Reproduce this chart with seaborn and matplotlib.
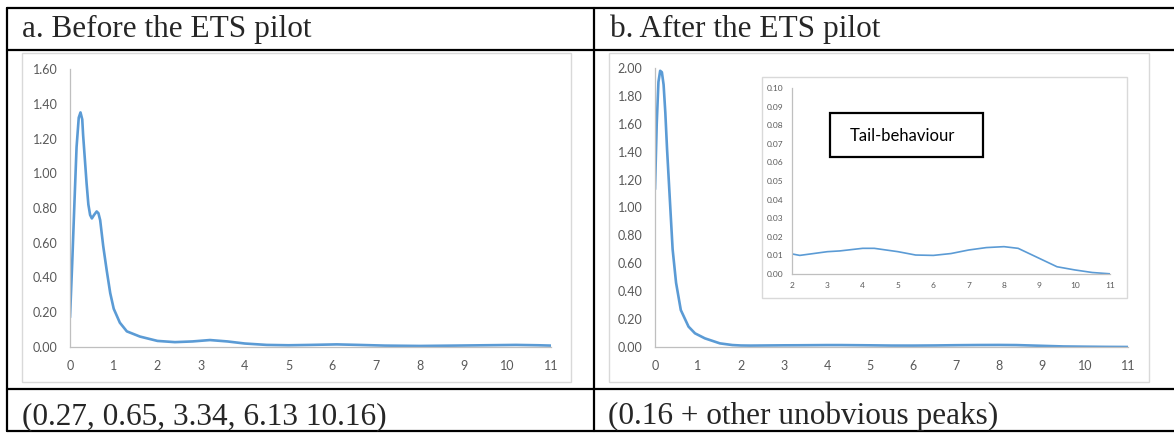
import matplotlib
matplotlib.use("Agg")
import matplotlib.pyplot as plt
from matplotlib.lines import Line2D
from matplotlib.patches import Rectangle
import seaborn as sns

# density before the pilot
before_x = [0, 0.05, 0.10, 0.15, 0.20, 0.24, 0.28, 0.30, 0.34, 0.38, 0.42, 0.46, 0.50,
            0.55, 0.61, 0.65, 0.69, 0.76, 0.84, 0.92, 1.0, 1.14, 1.30, 1.6, 2.0, 2.4,
            2.8, 3.2, 3.6, 4.0, 4.5, 5.0, 5.5, 6.1, 6.6, 7.2, 8.0, 8.8, 9.5, 10.2, 10.7, 11.0]
before_y = [0.17, 0.48, 0.82, 1.15, 1.32, 1.35, 1.31, 1.22, 1.08, 0.94, 0.82, 0.76, 0.74,
            0.76, 0.78, 0.77, 0.73, 0.58, 0.44, 0.31, 0.22, 0.14, 0.09, 0.06, 0.035, 0.028,
            0.032, 0.04, 0.032, 0.02, 0.012, 0.01, 0.012, 0.015, 0.012, 0.008, 0.006, 0.008,
            0.01, 0.012, 0.01, 0.008]

# density after the pilot, head part
after_head_x = [0, 0.04, 0.08, 0.12, 0.16, 0.20, 0.24, 0.28, 0.325, 0.37, 0.41, 0.49,
                0.60, 0.78, 0.93, 1.16, 1.51, 1.8]
after_head_y = [1.13, 1.60, 1.90, 1.98, 1.97, 1.88, 1.68, 1.42, 1.17, 0.92, 0.70, 0.46,
                0.265, 0.146, 0.098, 0.062, 0.026, 0.014]

# tail behaviour (x >= 2)
tail_x = [2.0, 2.22, 3.0, 3.35, 4.0, 4.33, 5.0, 5.5, 6.0, 6.5, 7.0, 7.5, 8.0, 8.4,
          9.0, 9.5, 10.0, 10.5, 11.0]
tail_y = [0.0108, 0.0100, 0.0120, 0.0124, 0.0138, 0.0138, 0.0120, 0.0102, 0.0100, 0.0110,
          0.0129, 0.0142, 0.0147, 0.0138, 0.0084, 0.0039, 0.0022, 0.0008, 0.0001]

after_x = after_head_x + tail_x
after_y = after_head_y + tail_y

headers = ["a. Before the ETS pilot", "b. After the ETS pilot"]
footers = ["(0.27, 0.65, 3.34, 6.13 10.16)", "(0.16 + other unobvious peaks)"]

sns.set_style("white")
plt.rcParams["font.family"] = ["Lato", "DejaVu Sans"]

W, H = 1174, 433
BLUE = "#5B9BD5"
GREY = "#595959"
AXC = "#BFBFBF"
FRAME = "#D9D9D9"

fig = plt.figure(figsize=(W / 100, H / 100), dpi=100)


def rect(x0, y0, x1, y1):
    return [x0 / W, 1 - y1 / H, (x1 - x0) / W, (y1 - y0) / H]


def hline(y, x0, x1, **kw):
    fig.add_artist(Line2D([x0 / W, x1 / W], [1 - y / H, 1 - y / H],
                          transform=fig.transFigure, **kw))


def vline(x, y0, y1, **kw):
    fig.add_artist(Line2D([x / W, x / W], [1 - y0 / H, 1 - y1 / H],
                          transform=fig.transFigure, **kw))


def frame(x0, y0, x1, y1, **kw):
    fig.add_artist(Rectangle((x0 / W, 1 - y1 / H), (x1 - x0) / W, (y1 - y0) / H,
                             transform=fig.transFigure, fill=False, **kw))


def style(ax, xticks, yticks, fs, pad):
    sns.despine(ax=ax)
    for s in ["left", "bottom"]:
        ax.spines[s].set_color(AXC)
        ax.spines[s].set_linewidth(0.9)
    ax.set_xticks(xticks)
    ax.set_yticks(yticks)
    ax.set_yticklabels([f"{v:.2f}" for v in yticks])
    ax.tick_params(length=0, labelsize=fs, colors=GREY, pad=pad)
    ax.set_xlabel("")
    ax.set_ylabel("")
    ax.set_facecolor("none")


# table lines
kw = dict(color="black", lw=1.6)
hline(8, 7, W, **kw)
hline(50, 7, W, **kw)
hline(389, 7, W, **kw)
hline(431, 7, W, **kw)
vline(7, 8, 431, **kw)
vline(594, 8, 431, **kw)

# chart frames
frame(22, 53, 571, 382, color=FRAME, lw=1)
frame(609, 53, 1149, 382, color=FRAME, lw=1)

# left chart
ax1 = fig.add_axes(rect(70, 69, 551, 347))
sns.lineplot(x=before_x, y=before_y, ax=ax1, color=BLUE, lw=1.9)
ax1.set_xlim(0, 11)
ax1.set_ylim(0, 1.6)
style(ax1, range(0, 12), [i * 0.2 for i in range(9)], 9, 9)

# right chart
ax2 = fig.add_axes(rect(655, 68, 1128, 347))
sns.lineplot(x=after_x, y=after_y, ax=ax2, color=BLUE, lw=1.9)
ax2.set_xlim(0, 11)
ax2.set_ylim(0, 2.0)
style(ax2, range(0, 12), [i * 0.2 for i in range(11)], 9, 9)

# inset
fig.add_artist(Rectangle((762 / W, 1 - 298 / H), (1127 - 762) / W, (298 - 77) / H,
                         transform=fig.transFigure, facecolor="white",
                         edgecolor=FRAME, lw=1, zorder=3))
ax3 = fig.add_axes(rect(792, 88, 1110, 274))
ax3.set_zorder(4)
sns.lineplot(x=tail_x, y=tail_y, ax=ax3, color=BLUE, lw=1.2)
ax3.set_xlim(2, 11)
ax3.set_ylim(0, 0.10)
style(ax3, range(2, 12), [i * 0.01 for i in range(11)], 6, 6)

ax3.text((850 - 792) / (1110 - 792), 1 - (136 - 88) / (274 - 88), "Tail-behaviour",
         transform=ax3.transAxes, fontsize=12, color="black", va="center", ha="left")
ax3.add_patch(Rectangle(((830 - 792) / (1110 - 792), 1 - (157 - 88) / (274 - 88)),
                        (983 - 830) / (1110 - 792), (157 - 113) / (274 - 88),
                        transform=ax3.transAxes, fill=False, edgecolor="black",
                        lw=1.6, clip_on=False))

# table text
serif = ["Liberation Serif", "DejaVu Serif"]
fig.text(22 / W, 1 - 37 / H, headers[0], family=serif, fontsize=22.5, va="baseline")
fig.text(610 / W, 1 - 37 / H, headers[1], family=serif, fontsize=22.5, va="baseline")
fig.text(22 / W, 1 - 424 / H, footers[0], family=serif, fontsize=22.5, va="baseline")
fig.text(608 / W, 1 - 424 / H, footers[1], family=serif, fontsize=22.5, va="baseline")

fig.savefig("out.png", dpi=100)
